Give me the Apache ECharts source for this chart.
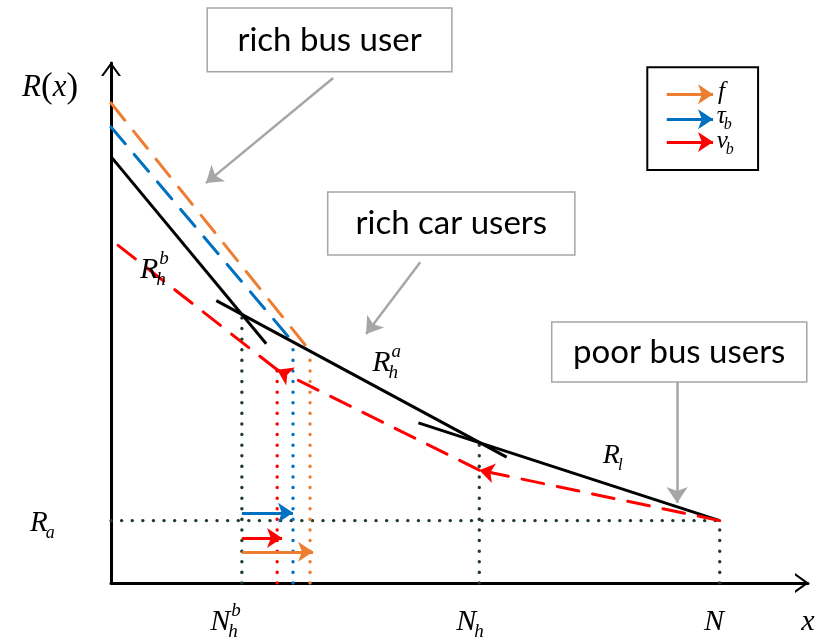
<!DOCTYPE html>
<html lang="en">
<head>
<meta charset="UTF-8">
<title>R(x)</title>
<script src="https://cdn.jsdelivr.net/npm/echarts@6/dist/echarts.min.js"></script>
<style>
    html, body { margin: 0; height: 100%; background: #fff; }
    #main { width: 815px; height: 641px; }
</style>
</head>
<body>
<div id="main"></div>
<script>
const chart = echarts.init(document.getElementById('main'));

// plot units: x = users, y = R(x)
const N_HB = 21.5, N_H = 60.5, N_ALL = 100, R_A = 12;

const rhbLine = [[0, 82], [25.5, 46]];
const rhaLine = [[17.3, 54.3], [65, 24.2]];
const rlLine = [[50.5, 30.8], [100, 12]];
const fDash = [[0, 92.3], [32.7, 44.6]];
const tauDash = [[0, 87.7], [29.9, 46.3]];
const nuDash = [[0, 66], [27.3, 41], [60.5, 21.7], [100, 12]];

const guideGreen = [
    [[N_HB, 0], [N_HB, 51.65]],
    [[N_H, 0], [N_H, 27]],
    [[N_ALL, 0], [N_ALL, R_A]],
    [[0, R_A], [N_ALL, R_A]]
];
const guideNu = [[27.3, 0], [27.3, 41]];
const guideTau = [[29.9, 0], [29.9, 46.3]];
const guideF = [[32.7, 0], [32.7, 44.6]];

const shiftTau = [[N_HB, 13.5], [29.9, 13.5]];
const shiftNu = [[N_HB, 8.65], [28.1, 8.65]];
const shiftF = [[N_HB, 6], [33.2, 6]];

const legendF = [[91.3, 94], [98.9, 94]];
const legendTau = [[91.3, 89.2], [98.9, 89.2]];
const legendNu = [[91.3, 84.8], [98.9, 84.8]];

const ORANGE = '#ed7d31', BLUE = '#0070c0', RED = '#ff0000', GREEN = '#1d3b29', GREY = '#a6a6a6';
const SERIF = '"Liberation Serif", "DejaVu Serif", serif';
const DASH = [22, 14];
const DOT = [0.1, 10.5];

const seg = (data, color, width, type, z) => ({
    type: 'line', data, symbol: 'none', silent: true, z: z || 3,
    lineStyle: { color, width, type: type || 'solid', cap: type ? 'round' : 'butt' }
});
const arrows = (coords, color, width, size, z) => ({
    type: 'lines', coordinateSystem: 'cartesian2d', silent: true, z: z || 4, clip: false,
    symbol: ['none', 'arrow'], symbolSize: size,
    lineStyle: { color, width, opacity: 1 },
    data: coords.map(c => ({ coords: c }))
});
const chevron = 'path://M0,14 L10,0 L20,14 L17.6,14 L10,3.6 L2.4,14 Z';

const series = [];
guideGreen.forEach(g => series.push(seg(g, GREEN, 3.4, DOT, 2)));
series.push(seg(guideNu, RED, 3.4, DOT, 2));
series.push(seg(guideTau, BLUE, 3.4, DOT, 2));
series.push(seg(guideF, ORANGE, 3.4, DOT, 2));
series.push(seg(fDash, ORANGE, 3, DASH));
series.push(seg(tauDash, BLUE, 3, DASH));
series.push(seg(rhbLine, '#000', 3));
series.push(seg(rhaLine, '#000', 3));
series.push(seg(rlLine, '#000', 3));
// red dashed path, drawn right to left so the arrowheads sit at the kinks
series.push({
    type: 'lines', coordinateSystem: 'cartesian2d', silent: true, z: 4, clip: false,
    symbol: ['none', 'none'], symbolSize: 15,
    lineStyle: { color: RED, width: 3, type: DASH, cap: 'round', opacity: 1 },
    data: [
        { coords: [nuDash[3], nuDash[2]], symbol: ['none', 'arrow'] },
        { coords: [nuDash[2], nuDash[1]], symbol: ['none', 'arrow'] },
        { coords: [nuDash[1], nuDash[0]] }
    ]
});
series.push(arrows([shiftTau], BLUE, 3, 15));
series.push(arrows([shiftNu], RED, 3, 15));
series.push(arrows([shiftF], ORANGE, 3, 15));
series.push(arrows([legendF], ORANGE, 3, 15));
series.push(arrows([legendTau], BLUE, 3, 15));
series.push(arrows([legendNu], RED, 3, 15));
series.push(arrows([
    [[36.5, 97.1], [15.6, 76.9]],
    [[50.8, 61.7], [41.9, 47.9]],
    [[93.0, 38.65], [93.0, 15.4]]
], GREY, 2.5, 16));

const axisLine = {
    show: true,
    symbol: ['none', chevron],
    symbolSize: [20, 14],
    symbolOffset: [0, -6],
    lineStyle: { color: '#000', width: 3 }
};

chart.setOption({
    animation: false,
    grid: { left: 111, top: 63, width: 697, height: 520 },
    xAxis: {
        type: 'value', min: 0, max: 114.5,
        axisLine, axisTick: { show: false }, axisLabel: { show: false }, splitLine: { show: false }
    },
    yAxis: {
        type: 'value', min: 0, max: 100,
        axisLine, axisTick: { show: false }, axisLabel: { show: false }, splitLine: { show: false }
    },
    series
});

// text and boxes, placed through the grid's own scale
const P = pt => chart.convertToPixel({ gridIndex: 0 }, pt);
const ctx = document.createElement('canvas').getContext('2d');
const textW = (s, font) => { ctx.font = font; return ctx.measureText(s).width; };

function mathText(pt, base, sup, sub, size) {
    const p = P(pt);
    const f = `italic ${size}px ${SERIF}`;
    const small = Math.round(size * 0.62);
    const fs = `italic ${small}px ${SERIF}`;
    const w = textW(base, f);
    const out = [{ type: 'text', z: 8, x: p[0], y: p[1], style: { text: base, font: f, fill: '#000', verticalAlign: 'middle' } }];
    if (sup) out.push({ type: 'text', z: 8, x: p[0] + w + 1, y: p[1] - size * 0.36, style: { text: sup, font: fs, fill: '#000', verticalAlign: 'middle' } });
    if (sub) out.push({ type: 'text', z: 8, x: p[0] + w - 2, y: p[1] + size * 0.34, style: { text: sub, font: fs, fill: '#000', verticalAlign: 'middle' } });
    return out;
}

function box(a, b, stroke, lw, z) {
    const p = P(a), q = P(b);
    return {
        type: 'rect', z: z,
        shape: { x: p[0], y: p[1], width: q[0] - p[0], height: q[1] - p[1] },
        style: { fill: '#fff', stroke, lineWidth: lw }
    };
}

function callout(a, b, text) {
    const p = P(a), q = P(b);
    return [box(a, b, GREY, 1.5, 5), {
        type: 'text', z: 6, x: (p[0] + q[0]) / 2, y: (p[1] + q[1]) / 2,
        style: { text, font: '33px Lato, "Open Sans", sans-serif', fill: '#000', align: 'center', verticalAlign: 'middle' }
    }];
}

const rx = P([-14.6, 95.2]);
const graphic = [
    {
        type: 'text', z: 8, x: rx[0], y: rx[1],
        style: {
            text: '{i|R}{p|(}{i|x}{p|)}', verticalAlign: 'middle',
            rich: {
                i: { fontStyle: 'italic', fontSize: 31, fontFamily: SERIF },
                p: { fontSize: 35, fontFamily: SERIF }
            }
        }
    },
    ...mathText([-13.3, 11.4], 'R', null, 'a', 29),
    ...mathText([4.76, 60.2], 'R', 'b', 'h', 30),
    ...mathText([42.9, 42.3], 'R', 'a', 'h', 30),
    ...mathText([80.8, 24.4], 'R', null, 'l', 28),
    ...mathText([16.3, -7.5], 'N', 'b', 'h', 30),
    ...mathText([56.7, -7.5], 'N', null, 'h', 30),
    ...mathText([97.4, -7.5], 'N', null, null, 30),
    ...mathText([113.4, -7.5], 'x', null, null, 30),
    box([88.1, 99.2], [106.3, 79.4], '#000', 2, 1),
    ...mathText([99.7, 94.3], 'f', null, null, 25),
    ...mathText([99.5, 89.8], 'τ', null, 'b', 25),
    ...mathText([99.5, 85.0], 'ν', null, 'b', 25),
    ...callout([15.8, 110.6], [56.0, 98.3], 'rich bus user'),
    ...callout([35.6, 75.2], [76.2, 63.1], 'rich car users'),
    ...callout([72.4, 50.2], [114.3, 38.65], 'poor bus users')
];

chart.setOption({ graphic });
</script>
</body>
</html>
